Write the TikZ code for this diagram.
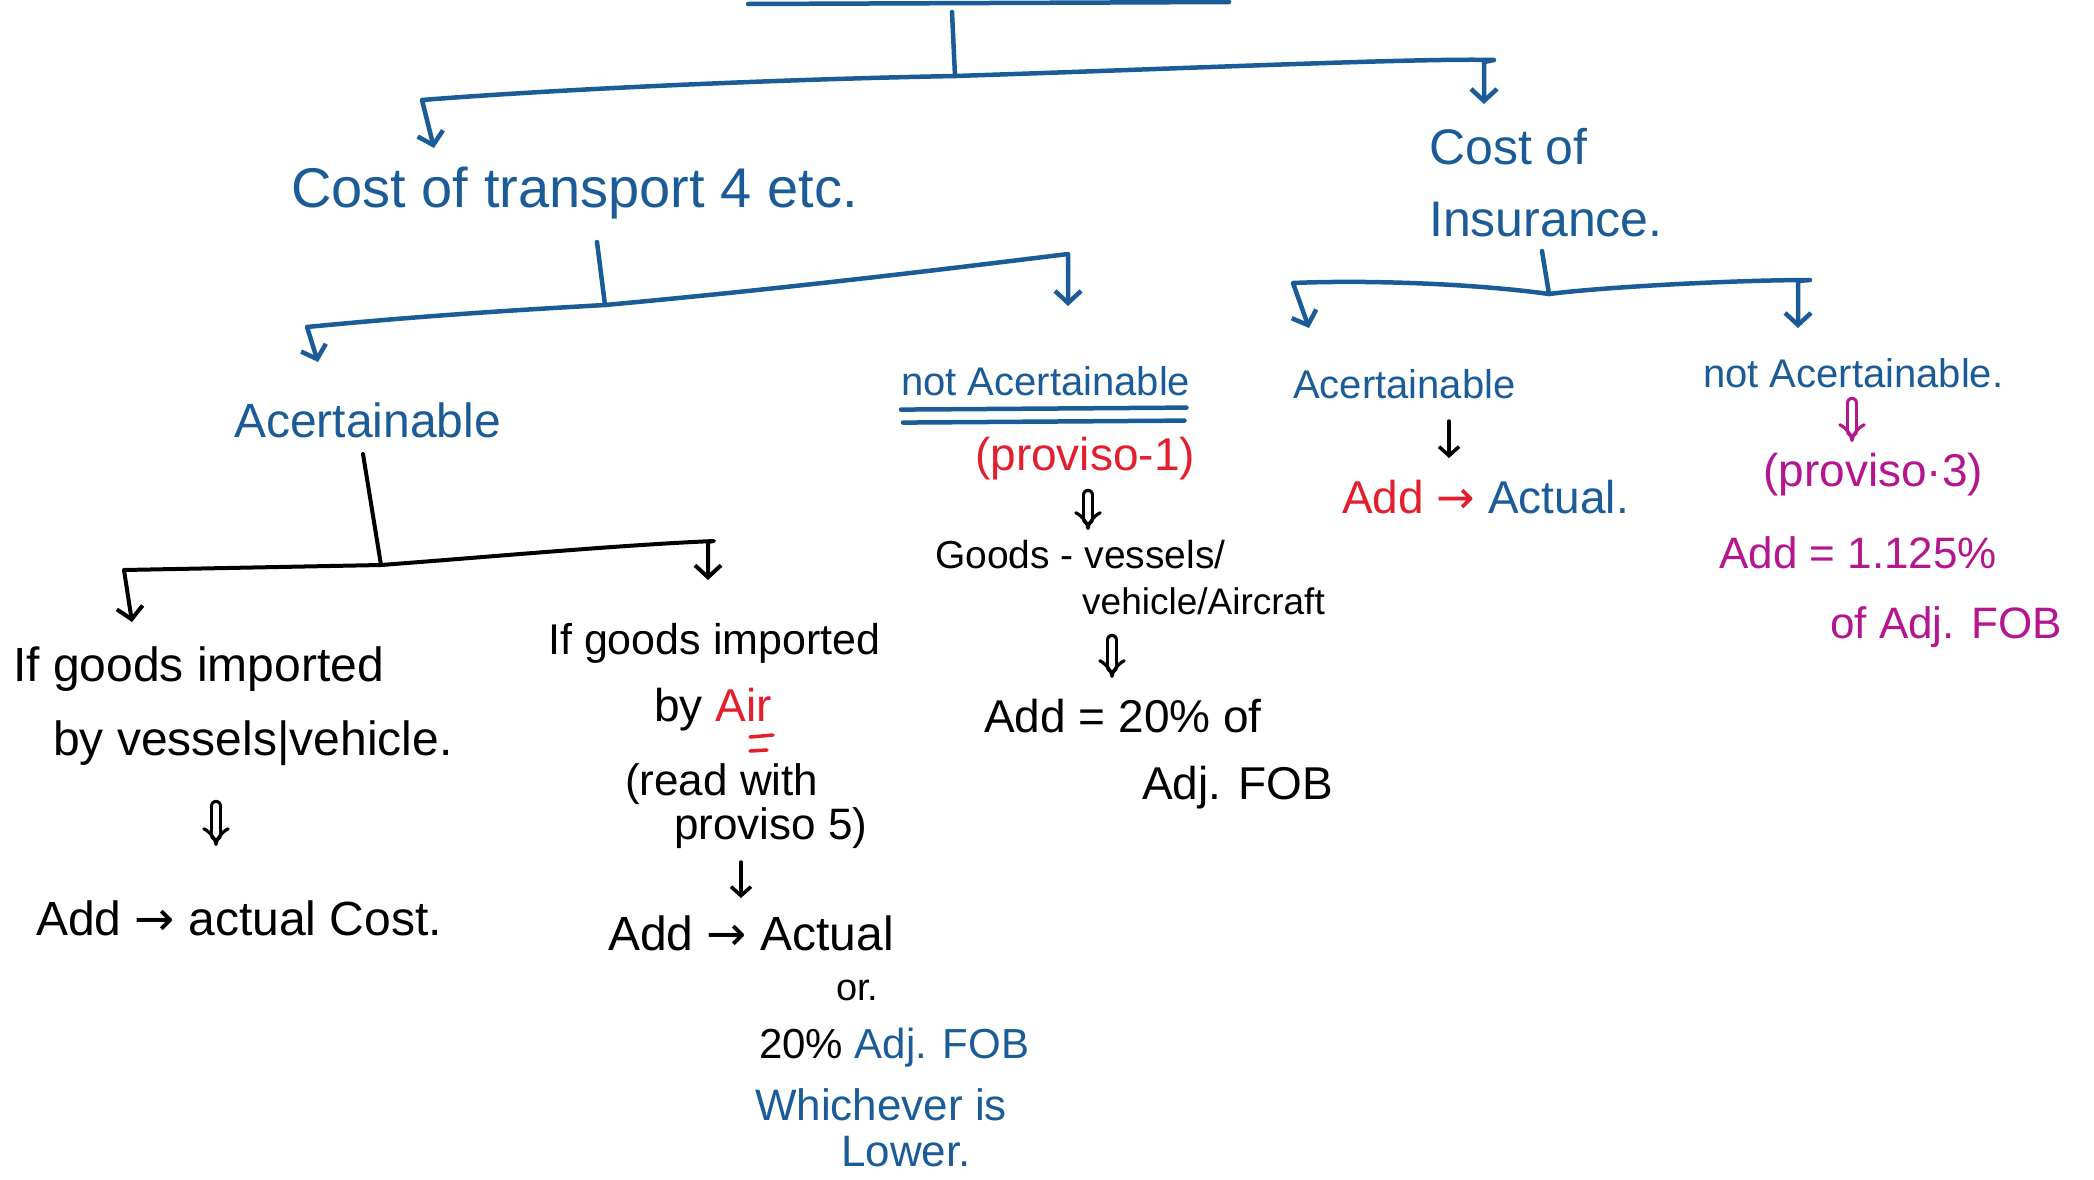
\documentclass[tikz,border=0pt]{standalone}
\usepackage{fontspec}
\setmainfont{Liberation Sans}
\newfontfamily\symfont{DejaVu Sans}
\usetikzlibrary{arrows.meta,calc}
\definecolor{inkblue}{HTML}{1B5C98}
\definecolor{inkred}{HTML}{E31E2D}
\definecolor{inkmag}{HTML}{B5168F}
\newcommand\fsz[1]{\fontsize{#1}{#1}\selectfont}
\newcommand\rarr{{\symfont →}}
\begin{document}
\begin{tikzpicture}[x=1pt,y=-1pt,line cap=round,line join=round,
  lbl/.style={anchor=base west,inner sep=0pt},
  bline/.style={draw=inkblue,line width=4.5pt},
  kline/.style={draw=black,line width=4pt},
  tip/.style={-{Straight Barb[length=12pt,width=26pt]}},
  dbl/.style={double,double distance=6pt,line width=3.2pt,-{Implies[length=10pt]}}]
\useasboundingbox[fill=white] (0,0) rectangle (2094,1179);

% ---------- labels ----------
\node[lbl,text=inkblue,font=\fsz{56}] (cot) at (291,207) {Cost of transport 4 etc.};
\node[anchor=north west,inner sep=0pt,text=inkblue,font=\fsz{50},align=left] (coi) at (1429,128)
  {Cost of\\[22pt]Insurance.};

\node[lbl,text=inkblue,font=\fsz{48}] (acc1) at (234,437) {Acertainable};
\node[lbl,text=inkblue,font=\fsz{40}] (nacc1) at (901,395) {not Acertainable};
\node[lbl,text=inkred,font=\fsz{46}] (prov1) at (975,470) {(proviso-1)};
\node[lbl,font=\fsz{39}] (goods1) at (935,568) {Goods - vessels/};
\node[lbl,font=\fsz{37}] (goods2) at (1082,614) {vehicle/Aircraft};
\node[lbl,font=\fsz{46}] (add20a) at (984,732) {Add = 20\% of};
\node[lbl,font=\fsz{46}] (add20b) at (1142,799) {Adj. FOB};

\node[lbl,text=inkblue,font=\fsz{40}] (acc2) at (1293,398) {Acertainable};
\node[lbl,font=\fsz{46}] (addact) at (1342,513) {\textcolor{inkred}{Add \rarr} \textcolor{inkblue}{Actual.}};
\node[lbl,text=inkblue,font=\fsz{40}] (nacc2) at (1703,387) {not Acertainable.};
\node[lbl,text=inkmag,font=\fsz{46}] (prov3) at (1763,486) {(proviso·3)};
\node[lbl,text=inkmag,font=\fsz{44}] (add125a) at (1719,568) {Add = 1.125\%};
\node[lbl,text=inkmag,font=\fsz{44}] (add125b) at (1830,638) {of Adj. FOB};

\node[lbl,font=\fsz{48}] (ifv1) at (13,681) {If goods imported};
\node[lbl,font=\fsz{48}] (ifv2) at (53,755) {by vessels|vehicle.};
\node[lbl,font=\fsz{48}] (addc) at (36,935) {Add \rarr\ actual Cost.};

\node[lbl,font=\fsz{43}] (ifa1) at (548,654) {If goods imported};
\node[lbl,font=\fsz{46}] (ifa2) at (654,721) {by \textcolor{inkred}{Air}};
\node[lbl,font=\fsz{44}] (rw1) at (625,795) {(read with};
\node[lbl,font=\fsz{44}] (rw2) at (674,839) {proviso 5)};
\node[lbl,font=\fsz{48}] (adda) at (608,950) {Add \rarr\ Actual};
\node[lbl,font=\fsz{38}] (or) at (836,1000) {or.};
\node[lbl,font=\fsz{42}] (pct) at (759,1058) {20\% \textcolor{inkblue}{Adj. FOB}};
\node[lbl,text=inkblue,font=\fsz{44}] (which) at (755,1120) {Whichever is};
\node[lbl,text=inkblue,font=\fsz{44}] (lower) at (841,1166) {Lower.};

% ---------- top bracket ----------
\coordinate (tl) at (748,4);
\coordinate (tr) at (1229,2);
\coordinate (t0) at (952,12);
\coordinate (j1) at (955,76);
\coordinate (a1l) at (434,148);
\coordinate (a1r) at (1484,104);
\draw[bline] (tl) -- (tr);
\draw[bline] (t0) -- (j1);
\draw[bline,tip] (j1) .. controls (748,80) and (534,91) .. (422,100) -- (a1l);
\draw[bline,tip] (j1) .. controls (1200,68) and (1420,58) .. (1494,60) -- (1484,62) -- (a1r);

% ---------- transport branch ----------
\coordinate (t2) at (597,242);
\coordinate (j2) at (605,305);
\coordinate (a2l) at (318,362);
\coordinate (a2r) at (1068,306);
\draw[bline] (t2) -- (j2);
\draw[bline,tip] (j2) .. controls (480,312) and (400,318) .. (307,327) -- (a2l);
\draw[bline,tip] (j2) .. controls (801,287) and (962,267) .. (1068,254) -- (a2r);
\draw[bline] ($(nacc1.south west)+(0,14)$) coordinate (u1a) -- ($(nacc1.south east)+(-4,12)$) coordinate (u1b);
\draw[bline] ($(nacc1.south west)+(2,27)$) coordinate (u2a) -- ($(nacc1.south east)+(-6,25)$) coordinate (u2b);

% ---------- insurance branch ----------
\coordinate (t3) at (1542,251);
\coordinate (j3) at (1549,294);
\coordinate (a3l) at (1309,328);
\coordinate (a3r) at (1798,328);
\draw[bline] (t3) -- (j3);
\draw[bline,tip] (j3) .. controls (1469,283) and (1362,280) .. (1293,283) -- (a3l);
\draw[bline,tip] (j3) .. controls (1603,287) and (1736,280) .. (1810,280) -- (1798,281) -- (a3r);

% ---------- ascertainable (transport) ----------
\coordinate (t4) at (363,454);
\coordinate (j4) at (381,565);
\coordinate (a4l) at (132,622);
\coordinate (a4r) at (708,580);
\draw[kline] (t4) -- (j4);
\draw[kline,tip] (j4) -- (124,570) -- (a4l);
\draw[kline,tip] (j4) .. controls (500,556) and (620,545) .. (714,541) -- (708,542) -- (a4r);

% ---------- vertical arrows between texts ----------
\coordinate (d1s) at (1088,495); \coordinate (d1e) at (1088,530);
\coordinate (d2s) at (1112,640); \coordinate (d2e) at (1112,678);
\coordinate (d3s) at (1449,421); \coordinate (d3e) at (1449,458);
\coordinate (d4s) at (1852,403); \coordinate (d4e) at (1852,442);
\coordinate (d5s) at (216,806);  \coordinate (d5e) at (216,846);
\coordinate (d6s) at (741,862);  \coordinate (d6e) at (741,898);
\draw[dbl,draw=black] (d1s) -- (d1e);
\draw[dbl,draw=black] (d2s) -- (d2e);
\draw[kline,line width=3.5pt,-{Straight Barb[length=9pt,width=20pt]}] (d3s) -- (d3e);
\draw[dbl,draw=inkmag] (d4s) -- (d4e);
\draw[dbl,draw=black] (d5s) -- (d5e);
\draw[kline,line width=3.5pt,-{Straight Barb[length=9pt,width=20pt]}] (d6s) -- (d6e);

% ---------- "Air" underline ----------
\coordinate (ua1) at (750,737); \coordinate (ua2) at (773,735);
\coordinate (ub1) at (750,751); \coordinate (ub2) at (767,750);
\draw[draw=inkred,line width=3.5pt] (ua1) -- (ua2);
\draw[draw=inkred,line width=3.5pt] (ub1) -- (ub2);
\end{tikzpicture}
\end{document}
